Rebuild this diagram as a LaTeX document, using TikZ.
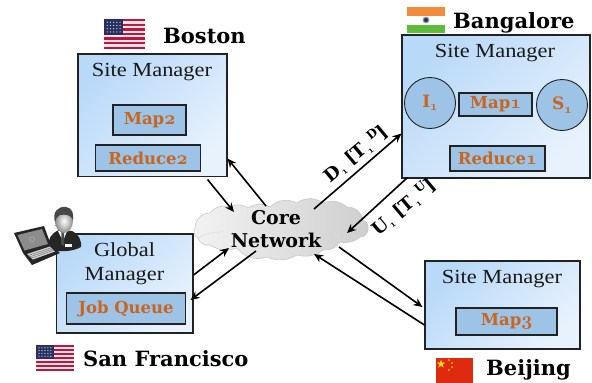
\documentclass[tikz,border=0pt]{standalone}
\usepackage{fontspec}
\usetikzlibrary{arrows.meta}
\newfontfamily\regf[FakeStretch=1.12]{Liberation Serif}
\newfontfamily\boldf{DejaVu Serif}[BoldFont={DejaVu Serif Bold}]
\font\osa=cmmib10 at 19pt
\font\osb=cmmib10 at 13pt
\font\osc=cmmib10 at 10pt
\definecolor{boxa}{HTML}{B9D9F8}
\definecolor{boxb}{HTML}{E8F2FD}
\definecolor{inner}{HTML}{9DC3E6}
\definecolor{orng}{HTML}{C8651E}
\definecolor{edge}{HTML}{222222}
\definecolor{usred}{HTML}{B8173F}
\definecolor{usblue}{HTML}{25305F}
\definecolor{insaf}{HTML}{F28B3C}
\definecolor{ingrn}{HTML}{5DBB3B}
\definecolor{cnred}{HTML}{DE2A0E}
\tikzset{
  sitebox/.style={draw=edge,line width=1.1pt,inner sep=0pt,top color=boxa,bottom color=boxb,shading angle=45},
  taskbox/.style={draw=edge,line width=1.1pt,inner sep=0pt,fill=inner,text=orng,font=\boldf\bfseries\fontsize{16.5}{16.5}\selectfont},
  statecirc/.style={circle,draw=edge,line width=0.9pt,inner sep=0pt,fill=inner,minimum size=51pt,text=orng,font=\boldf\bfseries\fontsize{17}{17}\selectfont},
  boxtitle/.style={inner sep=0pt,text=black!90,font=\regf\fontsize{20}{24}\selectfont,align=center},
  city/.style={inner sep=0pt,anchor=base west,font=\boldf\bfseries\fontsize{21}{24}\selectfont},
  conn/.style={draw=black,line width=1.6pt,-{Stealth[length=9pt,width=8pt]}},
  flowlabel/.style={inner sep=0pt,rotate=40,font=\boldf\bfseries\fontsize{18}{18}\selectfont},
}
\newcommand{\usflag}[4]{%
  \begin{scope}[shift={(#1,#2)}]
    \fill[white!88!usred] (0,0) rectangle (#3,#4);
    \foreach \i in {0,2,...,12}{\fill[usred] (0,{\i*#4/13}) rectangle (#3,{(\i+1)*#4/13});}
    \fill[usblue] (0,0) rectangle ({0.47*#3},{7*#4/13});
    \foreach \r in {1,...,4}{\foreach \c in {1,...,5}{%
      \fill[white!75!usblue] ({\c*0.47*#3/6},{\r*7*#4/13/5}) circle (0.7);}}
  \end{scope}}
\newcommand{\subone}{\raisebox{-3.5pt}{\osc 1}}
\begin{document}
\begin{tikzpicture}[x=1pt,y=-1pt]
\useasboundingbox (0,0) rectangle (592,383);
% Boston
\usflag{104}{19}{41}{30}
\node[city] (bostonlbl) at (163,43) {Boston};
\node[sitebox,minimum width=149pt,minimum height=122.5pt] (boston) at (152.5,115.25) {};
\node[boxtitle] (bostontitle) at (152,72) {Site Manager};
\node[taskbox,minimum width=73pt,minimum height=30pt] (map2) at (149.5,120) {Map{\osa 2}};
\node[taskbox,minimum width=105pt,minimum height=26pt] (reduce2) at (148,158) {Reduce{\osa 2}};
% Bangalore
\fill[insaf] (407,7) rectangle (445,15.5);
\fill[white] (407,15.5) rectangle (445,24.5);
\fill[ingrn] (407,24.5) rectangle (445,33);
\draw[usblue!50,line width=1.2pt,fill=usblue] (426,20) circle (2.8);
\node[city] (banglbl) at (453,28) {Bangalore};
\node[sitebox,minimum width=188pt,minimum height=143pt] (bang) at (496,106.5) {};
\node[boxtitle] (bangtitle) at (495,53) {Site Manager};
\node[statecirc] (i1) at (430,103) {I\raisebox{-3.5pt}{\osb 1}};
\node[statecirc] (s1) at (562,105) {S\raisebox{-3.5pt}{\osb 1}};
\node[taskbox,minimum width=73pt,minimum height=23pt] (map1) at (495.5,104.5) {Map{\osa 1}};
\node[taskbox,minimum width=95pt,minimum height=25pt] (reduce1) at (497.5,158.5) {Reduce{\osa 1}};
% Global
\node[sitebox,minimum width=136.5pt,minimum height=99pt] (global) at (124.75,283.5) {};
\node[boxtitle] (globaltitle) at (124.5,264) {Global\\Manager};
\node[taskbox,minimum width=119pt,minimum height=31pt] (jobq) at (126,308.5) {Job Queue};
\usflag{36}{345}{38}{26}
\node[city] (sflbl) at (83,366) {San Francisco};
% Beijing
\node[sitebox,minimum width=155pt,minimum height=88pt] (beijing) at (502.5,305) {};
\node[boxtitle] (beijingtitle) at (502,279) {Site Manager};
\node[taskbox,minimum width=101pt,minimum height=27pt] (map3) at (506.5,321.5) {Map{\osa 3}};
\fill[cnred] (436,358) rectangle (473,383);
\foreach \a/\b/\r in {441/364/4.5,449/360/1.2,452/363/1.2,452/367/1.2,449/370/1.2}{
  \fill[yellow!90!orange,shift={(\a,\b)}] (-90:\r)--(54:\r)--(198:\r)--(-18:\r)--(126:\r)--cycle;}
\node[city] (beijinglbl) at (486,375) {Beijing};
% Person with laptop
\begin{scope}
  \fill[black!85] (49,250) .. controls (47,238) and (52,233) .. (59,230) -- (72,231) .. controls (80,235) and (82,243) .. (81,247) .. controls (72,252) and (60,252) .. (49,250) -- cycle;
  \fill[white] (58,231) -- (67,231) -- (63,241) -- cycle;
  \fill[black!70] (61.5,232) -- (64,232) -- (64,246) -- (61,244) -- cycle;
  \fill[white] (65,244) rectangle (72,247);
  \shade[inner color=white,outer color=black!45] (64,221) ellipse (9 and 12);
  \fill[black!72] (55,222) .. controls (52,212) and (58,206) .. (66,207) .. controls (72,208) and (74,213) .. (73,220) .. controls (71,215) and (66,214) .. (60,215) .. controls (57,216) and (56,219) .. (55,222) -- cycle;
  \fill[black!85] (14,233) -- (44,226) -- (51,245) -- (60,253) -- (32,265) -- (23,253) -- cycle;
  \fill[black!45] (17.5,235) -- (42,229) -- (48,244) -- (24.5,250.5) -- cycle;
  \draw[white!70!black,line width=0.5pt] (32,239.5) circle (2.5);
  \fill[black!18] (27,254) -- (50,246.5) -- (55,251.5) -- (33,259.5) -- cycle;
  \foreach \t in {0.25,0.5,0.75}{\draw[black!60,line width=0.4pt] ({27+6*\t},{254+5.5*\t}) -- ({50+5*\t},{246.5+5*\t});}
\end{scope}
% Cloud
\coordinate (cloud) at (281.5,229.5);
\path[draw=black!22,line width=0.6pt,left color=black!5,right color=black!19]
  (195,228) to[bend left=45] (210,213) to[bend left=35] (230,207) to[bend left=30] (248,208)
  to[bend left=30] (270,207) to[bend left=35] (297,203) to[bend left=35] (323,203)
  to[bend left=30] (347,207) to[bend left=40] (363,220) to[bend left=40] (368,230)
  to[bend left=40] (360,237) to[bend left=25] (340,242) to[bend left=30] (323,250)
  to[bend left=25] (297,255) to[bend left=25] (267,257) to[bend left=35] (237,248)
  to[bend left=25] (210,245) to[bend left=40] (198,238) to[bend left=50] (195,228) -- cycle;
\draw[black!14,line width=0.5pt] (198,238) to[bend left=15] (224,232);
\draw[black!14,line width=0.5pt] (340,242) to[bend right=25] (332,231);
\node[inner sep=0pt,align=center,font=\boldf\bfseries\fontsize{19}{23}\selectfont] (cloudlbl) at (276,229.5) {Core\\Network};
% Connectors
\draw[conn] ([shift={(-20,2.5)}]boston.south east) -- ([shift={(-47.5,-17.5)}]cloud);
\draw[conn] ([shift={(-15.5,-23.5)}]cloud) -- ([shift={(0,-18.5)}]boston.south east);
\draw[conn] ([shift={(32.5,-20.5)}]cloud) -- ([shift={(0,-45)}]bang.south west);
\draw[conn] ([shift={(6,-1)}]bang.south west) -- ([shift={(65.5,3.5)}]cloud);
\draw[conn] ([shift={(0,-8.5)}]global.east) -- ([shift={(-52.5,18.5)}]cloud);
\draw[conn] ([shift={(-25.5,21.5)}]cloud) -- ([shift={(-3,16.5)}]global.east);
\draw[conn] ([shift={(57.5,17.5)}]cloud) -- ([shift={(-2,2)}]beijing.west);
\draw[conn] ([shift={(0,20)}]beijing.west) -- ([shift={(32.5,24.5)}]cloud);
% Flow labels
\node[flowlabel] (dlbl) at (356,154) {D\subone\ [T\subone\,\raisebox{6.5pt}{\fontsize{12}{12}\selectfont D}]};
\node[flowlabel] (ulbl) at (404,207) {U\subone\ [T\subone\,\raisebox{6.5pt}{\fontsize{12}{12}\selectfont U}]};
\end{tikzpicture}
\end{document}
